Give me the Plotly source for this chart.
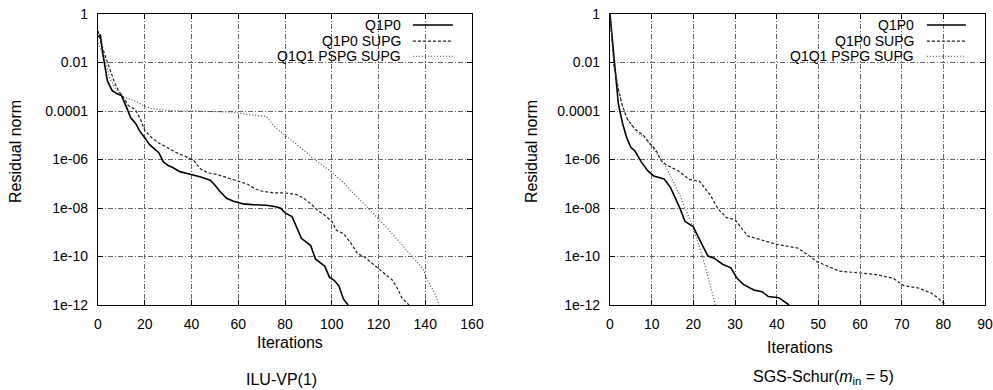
import plotly.graph_objects as go

# ---------------- data ----------------
# Left panel: ILU-VP(1)
ilu_q1p0_x = [0, 1, 2, 3, 4, 5, 6, 8, 10, 12, 14, 16, 18, 20, 22, 24, 26, 28, 30, 32, 35, 39, 44, 48,
              50, 52, 55, 58, 62, 66, 72, 76, 78, 80, 83, 85, 87, 89, 91, 93, 95, 97, 99, 101, 103, 105, 107]
ilu_q1p0_y = [0.112, 0.141, 0.0251, 6.31e-3, 1.78e-3, 1.12e-3, 7.08e-4, 5.25e-4, 4.37e-4, 1.58e-4, 5.25e-5,
              3.16e-5, 1.41e-5, 7.94e-6, 4.17e-6, 2.82e-6, 1.91e-6, 7.94e-7, 5.62e-7, 4.68e-7, 3.16e-7, 2.51e-7,
              1.91e-7, 1.41e-7, 8.91e-8, 5.01e-8, 2.51e-8, 1.91e-8, 1.48e-8, 1.38e-8, 1.29e-8, 1.12e-8, 1e-8,
              6.31e-9, 4.47e-9, 1.58e-9, 5.62e-10, 3.98e-10, 2.82e-10, 7.94e-11, 5.62e-11, 3.98e-11, 1.41e-11,
              1.05e-11, 6.31e-12, 1.78e-12, 1e-12]

ilu_supg_x = [0, 1, 3, 5, 7, 9, 11, 13, 16, 18, 20, 23, 26, 29, 33, 37, 41, 44, 47, 51, 55, 60, 64, 67, 70,
              75, 80, 85, 88, 91, 94, 97, 100, 102, 105, 108, 111, 114, 117, 120, 123, 126, 128, 130, 133]
ilu_supg_y = [0.2, 0.0794, 0.02, 5.62e-3, 1.58e-3, 6.31e-4, 3.55e-4, 1.66e-4, 1.12e-4, 5.01e-5, 1.58e-5,
              7.94e-6, 4.79e-6, 3.39e-6, 2.0e-6, 1.41e-6, 8.91e-7, 3.98e-7, 2.82e-7, 2.4e-7, 1.78e-7, 1.32e-7,
              9.55e-8, 6.31e-8, 5.01e-8, 4.17e-8, 4.17e-8, 3.55e-8, 2.51e-8, 1.51e-8, 7.94e-9, 5.01e-9, 2.82e-9,
              1.2e-9, 8.71e-10, 3.8e-10, 1.32e-10, 9.55e-11, 5.62e-11, 3.16e-11, 1.78e-11, 1.05e-11, 5.01e-12,
              2.0e-12, 1e-12]

ilu_pspg_x = [0, 1, 3, 5, 8, 11, 15, 19, 23, 29, 40, 50, 58, 64, 72, 76, 81, 86, 92, 99, 104, 108, 115,
              122, 129, 136, 139, 141, 144, 146]
ilu_pspg_y = [0.063, 0.0398, 0.0126, 2.24e-3, 7.08e-4, 3.8e-4, 2.82e-4, 1.78e-4, 1.26e-4, 1.07e-4, 1e-4,
              9.55e-5, 8.91e-5, 7.08e-5, 6.03e-5, 2.0e-5, 8.32e-6, 3.55e-6, 1.12e-6, 3.55e-7, 1.41e-7, 5.37e-8,
              1.12e-8, 2.24e-9, 3.98e-10, 7.08e-11, 3.16e-11, 1e-11, 3.16e-12, 1e-12]

# Right panel: SGS-Schur(m_in = 5)
sgs_q1p0_x = [0, 1, 1.5, 2, 3, 4, 5, 6, 7.5, 9, 10.5, 13, 14.5, 16.5, 18, 20, 21.5, 23.5, 25, 27, 29,
              30.5, 32, 34.5, 36.5, 38, 40.5, 43]
sgs_q1p0_y = [1, 0.0126, 1e-3, 2e-4, 3.16e-5, 7.94e-6, 3.16e-6, 2.24e-6, 7.94e-7, 3.55e-7, 2.09e-7, 1.58e-7,
              7.08e-8, 1.26e-8, 2.82e-9, 1.66e-9, 5.01e-10, 1.05e-10, 8.51e-11, 4.79e-11, 3.39e-11, 1.26e-11,
              7.08e-12, 4.17e-12, 3.55e-12, 2.24e-12, 2.0e-12, 1e-12]

sgs_supg_x = [0, 1, 1.5, 2, 3, 4.2, 6, 8, 9.5, 11, 12.3, 13.5, 16.5, 19, 21.5, 24, 26, 28, 30, 31.2, 33,
              36, 40, 45, 47.5, 49.5, 52, 55, 60, 64, 68, 70.5, 74, 77, 79, 80.5]
sgs_supg_y = [1, 6.31e-3, 2.51e-3, 7.94e-4, 1.58e-4, 4.47e-5, 1.78e-5, 1e-5, 4.68e-6, 2.51e-6, 8.91e-7,
              6.03e-7, 3.31e-7, 1.51e-7, 1.26e-7, 3.55e-8, 8.91e-9, 3.98e-9, 3.31e-9, 1.74e-9, 7.08e-10,
              5.01e-10, 3.16e-10, 2.24e-10, 1.17e-10, 6.31e-11, 4.17e-11, 2.51e-11, 2.09e-11, 1.78e-11,
              1.26e-11, 6.31e-12, 5.01e-12, 3.16e-12, 1.78e-12, 1e-12]

sgs_pspg_x = [0, 1, 2, 3, 4.2, 6.5, 8.3, 10.2, 13.4, 16.6, 19.8, 22.2, 25.3]
sgs_pspg_y = [1, 6.31e-3, 7.94e-4, 1.58e-4, 4.47e-5, 1.26e-5, 7.94e-6, 3.16e-6, 5.01e-7, 3.98e-8, 1.78e-9,
              1e-10, 1e-12]

series_names = ["Q1P0", "Q1P0 SUPG", "Q1Q1 PSPG SUPG"]
y_tick_vals = [1, 1e-2, 1e-4, 1e-6, 1e-8, 1e-10, 1e-12]
y_tick_text = ["1", "0.01", "0.0001", "1e-06", "1e-08", "1e-10", "1e-12"]
panel_titles = ["ILU-VP(1)", "SGS-Schur(<i>m</i><sub>in</sub> = 5)"]
x_title = "Iterations"
y_title = "Residual norm"

# ---------------- styling ----------------
FONT = "Liberation Sans, Arial, Helvetica, sans-serif"
styles = [
    dict(color="#000000", width=1.6, dash="solid"),
    dict(color="#222222", width=1.2, dash="3px,2px"),
    dict(color="#444444", width=1.1, dash="1px,2px"),
]

fig = go.Figure()

left = [(ilu_q1p0_x, ilu_q1p0_y), (ilu_supg_x, ilu_supg_y), (ilu_pspg_x, ilu_pspg_y)]
right = [(sgs_q1p0_x, sgs_q1p0_y), (sgs_supg_x, sgs_supg_y), (sgs_pspg_x, sgs_pspg_y)]

for (xs, ys), st, nm in zip(left, styles, series_names):
    fig.add_trace(go.Scatter(x=xs, y=ys, mode="lines", name=nm, line=st,
                             xaxis="x", yaxis="y", showlegend=False))
for (xs, ys), st, nm in zip(right, styles, series_names):
    fig.add_trace(go.Scatter(x=xs, y=ys, mode="lines", name=nm, line=st,
                             xaxis="x2", yaxis="y2", showlegend=False))

W, H = 993, 390


def px(x):
    return x / W


def py(y):
    return 1 - y / H


dom_y = [py(305), py(14)]
dom_x1 = [px(98), px(472)]
dom_x2 = [px(610), px(985)]

grid = dict(showgrid=True, gridcolor="#666666", gridwidth=1, griddash="5px,2px,1px,2px")
axline = dict(showline=True, linecolor="black", linewidth=1.2, mirror="allticks",
              ticks="inside", ticklen=5, tickcolor="black", zeroline=False, automargin=False,
              ticklabelstandoff=6, ticklabeloverflow="allow",
              tickfont=dict(family=FONT, size=14, color="black"))

fig.update_layout(
    width=W, height=H,
    margin=dict(l=0, r=0, t=0, b=0, autoexpand=False),
    paper_bgcolor="white", plot_bgcolor="white",
    font=dict(family=FONT, color="black"),
    xaxis=dict(domain=dom_x1, range=[0, 160], dtick=20, tick0=0, anchor="y", **grid, **axline),
    yaxis=dict(domain=dom_y, type="log", range=[-12, 0], tickvals=y_tick_vals, ticktext=y_tick_text,
               anchor="x", **grid, **axline),
    xaxis2=dict(domain=dom_x2, range=[0, 90], dtick=10, tick0=0, anchor="y2", **grid, **axline),
    yaxis2=dict(domain=dom_y, type="log", range=[-12, 0], tickvals=y_tick_vals, ticktext=y_tick_text,
                anchor="x2", **grid, **axline),
)

annotations = []
shapes = []

TXT = dict(size=16, family=FONT, color="black")
C = dict(xref="paper", yref="paper", showarrow=False, xanchor="center", yanchor="middle", font=TXT)
annotations += [
    dict(x=px(290), y=py(342), text=x_title, **C),
    dict(x=px(800), y=py(347), text=x_title, **C),
    dict(x=px(281), y=py(379), text=panel_titles[0], **C),
    dict(x=px(823), y=py(377), text=panel_titles[1], **C),
    dict(x=px(16), y=py(152), text=y_title, textangle=-90, **C),
    dict(x=px(532), y=py(152), text=y_title, textangle=-90, **C),
]

# in-plot legends (gnuplot style: text right-aligned, sample to the right)
legend_rows = [0.962, 0.907, 0.855]
for xr, yr, text_end, l0, l1 in [("x domain", "y domain", 0.8155, 0.842, 0.949),
                                 ("x2 domain", "y2 domain", 0.816, 0.845, 0.949)]:
    for nm, st, ry in zip(series_names, styles, legend_rows):
        annotations.append(dict(x=text_end, y=ry, xref=xr, yref=yr, text=nm, showarrow=False,
                                xanchor="right", yanchor="middle",
                                font=dict(size=14, family=FONT, color="black")))
        shapes.append(dict(type="line", xref=xr, yref=yr, x0=l0, x1=l1, y0=ry, y1=ry,
                           line=dict(color=st["color"], width=st["width"], dash=st["dash"])))

fig.update_layout(annotations=annotations, shapes=shapes)

fig.write_html("out.html", config={"displayModeBar": False},
               post_script="document.body.style.margin='0px';")
